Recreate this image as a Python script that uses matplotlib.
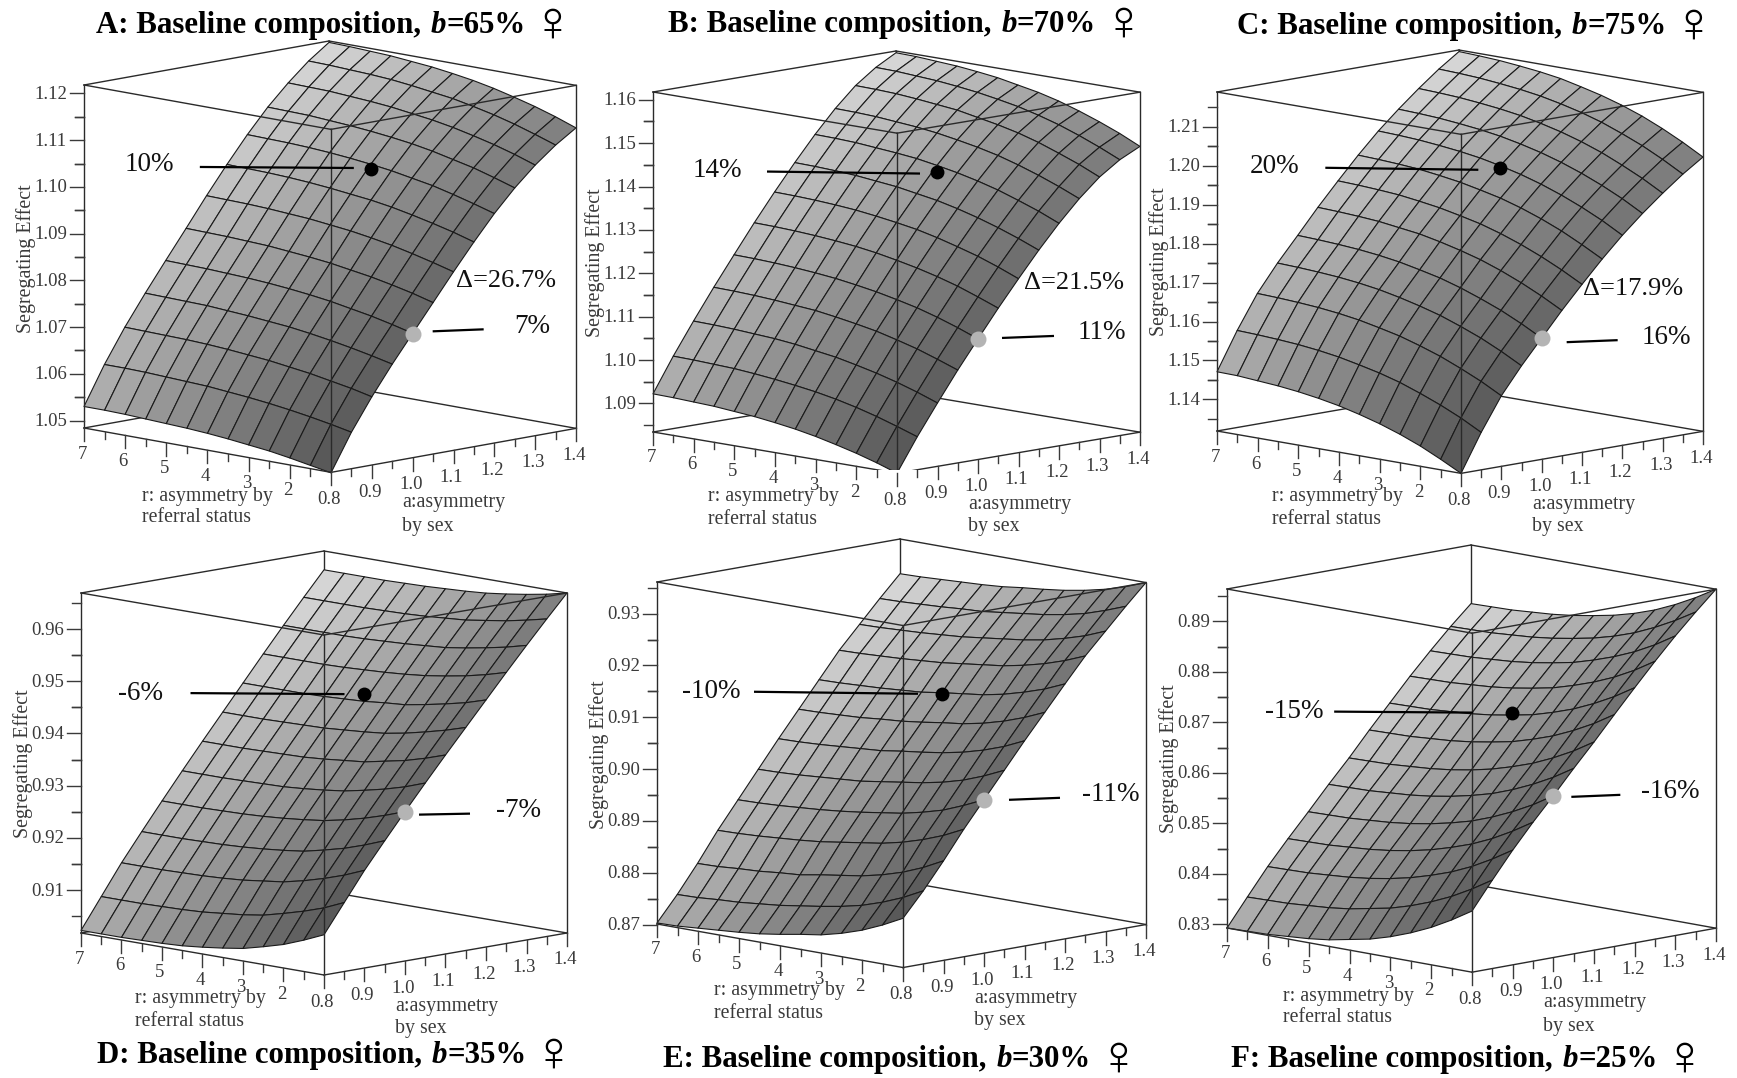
import numpy as np
import matplotlib
matplotlib.use('Agg')
import matplotlib.pyplot as plt
from mpl_toolkits.mplot3d import proj3d

W, H = 1737, 1078
SERIF = ['Liberation Serif', 'DejaVu Sans']

# surface nodes, coarser than the mesh of the original (about 25 x 25)
a_grid = [0.8, 0.85, 0.9, 0.95, 1.0, 1.05, 1.1, 1.15, 1.2, 1.25, 1.3, 1.35, 1.4]
r_grid = [1, 1.5, 2, 2.5, 3, 3.5, 4, 4.5, 5, 5.5, 6, 6.5, 7]

# rows follow r_grid, columns follow a_grid
z_A = [
    [1.0483,1.0562,1.0630,1.0692,1.0750,1.0808,1.0866,1.0922,1.0975,1.1022,1.1063,1.1098,1.1127],
    [1.0491,1.0571,1.0640,1.0702,1.0761,1.0820,1.0878,1.0935,1.0988,1.1036,1.1078,1.1113,1.1143],
    [1.0499,1.0579,1.0648,1.0711,1.0771,1.0830,1.0889,1.0946,1.1000,1.1049,1.1091,1.1127,1.1157],
    [1.0506,1.0586,1.0656,1.0719,1.0779,1.0839,1.0899,1.0956,1.1011,1.1059,1.1102,1.1139,1.1169],
    [1.0511,1.0592,1.0662,1.0726,1.0787,1.0846,1.0907,1.0965,1.1019,1.1069,1.1112,1.1149,1.1180],
    [1.0516,1.0597,1.0668,1.0732,1.0793,1.0853,1.0914,1.0972,1.1027,1.1077,1.1120,1.1158,1.1189],
    [1.0520,1.0601,1.0672,1.0736,1.0798,1.0858,1.0919,1.0977,1.1033,1.1083,1.1126,1.1164,1.1196],
    [1.0523,1.0605,1.0676,1.0740,1.0802,1.0862,1.0924,1.0982,1.1038,1.1088,1.1132,1.1170,1.1202],
    [1.0525,1.0607,1.0679,1.0743,1.0805,1.0866,1.0927,1.0986,1.1042,1.1092,1.1136,1.1175,1.1206],
    [1.0527,1.0609,1.0681,1.0746,1.0807,1.0868,1.0930,1.0989,1.1045,1.1095,1.1139,1.1178,1.1210],
    [1.0529,1.0611,1.0682,1.0747,1.0809,1.0870,1.0932,1.0991,1.1047,1.1098,1.1142,1.1180,1.1212],
    [1.0530,1.0612,1.0683,1.0748,1.0810,1.0871,1.0933,1.0992,1.1048,1.1099,1.1143,1.1182,1.1214],
    [1.0530,1.0612,1.0684,1.0749,1.0811,1.0872,1.0934,1.0993,1.1049,1.1100,1.1144,1.1183,1.1215]]
z_B = [
    [1.0834,1.0910,1.0980,1.1048,1.1112,1.1175,1.1235,1.1293,1.1347,1.1396,1.1438,1.1470,1.1493],
    [1.0850,1.0926,1.0997,1.1065,1.1130,1.1193,1.1254,1.1312,1.1367,1.1416,1.1459,1.1491,1.1515],
    [1.0864,1.0941,1.1012,1.1081,1.1146,1.1210,1.1271,1.1329,1.1384,1.1434,1.1477,1.1510,1.1534],
    [1.0876,1.0954,1.1025,1.1094,1.1160,1.1224,1.1285,1.1344,1.1400,1.1450,1.1494,1.1527,1.1551],
    [1.0887,1.0965,1.1036,1.1106,1.1171,1.1236,1.1298,1.1357,1.1413,1.1464,1.1508,1.1541,1.1566],
    [1.0896,1.0974,1.1046,1.1115,1.1181,1.1246,1.1309,1.1368,1.1424,1.1475,1.1519,1.1553,1.1578],
    [1.0903,1.0981,1.1053,1.1123,1.1189,1.1255,1.1317,1.1376,1.1433,1.1484,1.1528,1.1562,1.1587],
    [1.0909,1.0987,1.1060,1.1130,1.1196,1.1262,1.1324,1.1384,1.1441,1.1492,1.1537,1.1570,1.1596],
    [1.0913,1.0992,1.1065,1.1134,1.1201,1.1267,1.1330,1.1389,1.1446,1.1498,1.1542,1.1576,1.1602],
    [1.0917,1.0996,1.1068,1.1138,1.1205,1.1271,1.1334,1.1394,1.1450,1.1502,1.1547,1.1581,1.1607],
    [1.0919,1.0998,1.1071,1.1141,1.1208,1.1274,1.1337,1.1397,1.1454,1.1506,1.1551,1.1584,1.1610],
    [1.0921,1.1000,1.1073,1.1143,1.1210,1.1276,1.1339,1.1399,1.1456,1.1508,1.1553,1.1587,1.1613],
    [1.0922,1.1001,1.1074,1.1144,1.1211,1.1277,1.1340,1.1400,1.1457,1.1509,1.1554,1.1588,1.1614]]
z_C = [
    [1.1319,1.1415,1.1500,1.1568,1.1630,1.1692,1.1750,1.1806,1.1858,1.1905,1.1948,1.1988,1.2023],
    [1.1346,1.1443,1.1528,1.1596,1.1658,1.1720,1.1778,1.1834,1.1887,1.1934,1.1977,1.2017,1.2052],
    [1.1371,1.1467,1.1552,1.1621,1.1683,1.1745,1.1803,1.1860,1.1912,1.1959,1.2002,1.2043,1.2078],
    [1.1392,1.1488,1.1574,1.1642,1.1704,1.1767,1.1825,1.1882,1.1934,1.1981,1.2025,1.2065,1.2101],
    [1.1410,1.1507,1.1592,1.1661,1.1723,1.1786,1.1844,1.1901,1.1953,1.2000,1.2044,1.2085,1.2120],
    [1.1425,1.1522,1.1608,1.1676,1.1739,1.1801,1.1860,1.1917,1.1969,1.2016,1.2060,1.2101,1.2136],
    [1.1438,1.1534,1.1620,1.1689,1.1751,1.1814,1.1872,1.1929,1.1982,1.2029,1.2073,1.2114,1.2149],
    [1.1448,1.1545,1.1631,1.1700,1.1762,1.1825,1.1883,1.1940,1.1993,1.2040,1.2084,1.2125,1.2161],
    [1.1456,1.1553,1.1639,1.1708,1.1770,1.1832,1.1891,1.1948,1.2001,1.2048,1.2092,1.2133,1.2169],
    [1.1462,1.1559,1.1645,1.1714,1.1776,1.1839,1.1898,1.1955,1.2007,1.2054,1.2098,1.2139,1.2175],
    [1.1466,1.1563,1.1649,1.1718,1.1780,1.1843,1.1902,1.1959,1.2012,1.2059,1.2103,1.2144,1.2180],
    [1.1470,1.1566,1.1652,1.1721,1.1783,1.1846,1.1905,1.1962,1.2015,1.2062,1.2106,1.2147,1.2183],
    [1.1471,1.1568,1.1654,1.1723,1.1785,1.1848,1.1907,1.1964,1.2017,1.2064,1.2108,1.2149,1.2185]]
z_D = [
    [.9095,.9150,.9205,.9255,.9304,.9352,.9399,.9445,.9491,.9537,.9582,.9626,.9669],
    [.9078,.9133,.9189,.9240,.9290,.9338,.9386,.9433,.9479,.9526,.9572,.9617,.9660],
    [.9063,.9120,.9176,.9227,.9278,.9327,.9375,.9423,.9470,.9517,.9564,.9609,.9653],
    [.9052,.9109,.9165,.9217,.9268,.9318,.9367,.9414,.9462,.9510,.9557,.9603,.9647],
    [.9042,.9099,.9156,.9208,.9260,.9310,.9359,.9407,.9455,.9504,.9551,.9597,.9642],
    [.9036,.9093,.9151,.9203,.9255,.9305,.9355,.9403,.9452,.9500,.9548,.9594,.9639],
    [.9031,.9089,.9146,.9199,.9251,.9301,.9351,.9400,.9448,.9497,.9545,.9591,.9637],
    [.9027,.9085,.9143,.9196,.9248,.9298,.9348,.9397,.9446,.9495,.9543,.9589,.9635],
    [.9025,.9083,.9141,.9194,.9246,.9297,.9347,.9396,.9444,.9493,.9541,.9588,.9634],
    [.9024,.9082,.9140,.9193,.9245,.9296,.9346,.9395,.9443,.9492,.9540,.9587,.9633],
    [.9023,.9081,.9139,.9192,.9244,.9295,.9345,.9394,.9443,.9492,.9540,.9587,.9633],
    [.9023,.9081,.9139,.9192,.9244,.9295,.9345,.9394,.9443,.9492,.9540,.9587,.9633],
    [.9023,.9081,.9139,.9192,.9244,.9295,.9345,.9394,.9443,.9492,.9540,.9587,.9633]]
z_E = [
    [.8796,.8842,.8893,.8947,.8997,.9047,.9097,.9145,.9193,.9240,.9281,.9322,.9361],
    [.8776,.8822,.8873,.8928,.8979,.9029,.9079,.9128,.9176,.9224,.9265,.9307,.9346],
    [.8759,.8806,.8857,.8913,.8963,.9014,.9065,.9114,.9163,.9211,.9253,.9294,.9334],
    [.8746,.8793,.8845,.8901,.8952,.9003,.9054,.9103,.9152,.9201,.9243,.9285,.9325],
    [.8736,.8784,.8836,.8892,.8943,.8995,.9046,.9095,.9144,.9193,.9236,.9278,.9318],
    [.8730,.8777,.8830,.8886,.8937,.8989,.9040,.9090,.9139,.9188,.9231,.9273,.9313],
    [.8723,.8771,.8824,.8880,.8931,.8983,.9035,.9084,.9134,.9183,.9226,.9268,.9309],
    [.8717,.8765,.8817,.8874,.8926,.8977,.9029,.9079,.9128,.9178,.9221,.9263,.9304],
    [.8713,.8761,.8814,.8870,.8922,.8974,.9026,.9076,.9125,.9175,.9218,.9261,.9301],
    [.8710,.8757,.8810,.8867,.8919,.8971,.9023,.9072,.9122,.9172,.9215,.9258,.9299],
    [.8707,.8755,.8808,.8864,.8916,.8968,.9020,.9070,.9120,.9170,.9213,.9256,.9297],
    [.8704,.8752,.8805,.8862,.8914,.8966,.9018,.9068,.9118,.9168,.9211,.9254,.9295],
    [.8703,.8751,.8804,.8861,.8913,.8965,.9017,.9067,.9117,.9167,.9210,.9253,.9294]]
z_F = [
    [.8414,.8468,.8520,.8568,.8613,.8660,.8705,.8752,.8798,.8843,.8886,.8926,.8964],
    [.8389,.8443,.8495,.8543,.8588,.8635,.8680,.8727,.8773,.8818,.8861,.8902,.8940],
    [.8367,.8421,.8473,.8521,.8567,.8614,.8659,.8706,.8752,.8797,.8840,.8881,.8919],
    [.8349,.8403,.8455,.8503,.8549,.8596,.8641,.8688,.8734,.8780,.8823,.8863,.8901],
    [.8334,.8388,.8441,.8489,.8534,.8581,.8627,.8674,.8720,.8766,.8809,.8849,.8887],
    [.8322,.8376,.8429,.8477,.8523,.8570,.8615,.8662,.8708,.8754,.8797,.8838,.8876],
    [.8314,.8368,.8420,.8468,.8514,.8561,.8606,.8654,.8700,.8746,.8789,.8830,.8868],
    [.8306,.8360,.8413,.8461,.8507,.8554,.8599,.8647,.8693,.8739,.8782,.8823,.8861],
    [.8301,.8355,.8408,.8456,.8502,.8549,.8594,.8642,.8688,.8734,.8777,.8818,.8856],
    [.8298,.8352,.8405,.8453,.8499,.8546,.8591,.8639,.8685,.8731,.8774,.8815,.8853],
    [.8295,.8349,.8402,.8450,.8496,.8543,.8588,.8636,.8682,.8728,.8771,.8812,.8850],
    [.8294,.8348,.8401,.8449,.8495,.8542,.8587,.8635,.8681,.8727,.8770,.8811,.8849],
    [.8293,.8347,.8400,.8448,.8494,.8541,.8586,.8634,.8680,.8726,.8769,.8810,.8848]]
surfaces = [z_A, z_B, z_C, z_D, z_E, z_F]

letters = ['A', 'B', 'C', 'D', 'E', 'F']
b_share = ['65', '70', '75', '35', '30', '25']
z_lo = [1.0484, 1.0834, 1.1319, 0.9018, 0.8701, 0.8293]
z_hi = [1.1218, 1.1618, 1.2189, 0.9669, 0.9361, 0.8964]
z_ticks = [[1.05, 1.06, 1.07, 1.08, 1.09, 1.10, 1.11, 1.12],
           [1.09, 1.10, 1.11, 1.12, 1.13, 1.14, 1.15, 1.16],
           [1.14, 1.15, 1.16, 1.17, 1.18, 1.19, 1.20, 1.21],
           [0.91, 0.92, 0.93, 0.94, 0.95, 0.96],
           [0.87, 0.88, 0.89, 0.90, 0.91, 0.92, 0.93],
           [0.83, 0.84, 0.85, 0.86, 0.87, 0.88, 0.89]]
a_ticks = [0.8, 0.9, 1.0, 1.1, 1.2, 1.3, 1.4]
r_ticks = [2, 3, 4, 5, 6, 7]

# the two marked points on each surface
black_a, black_r = 1.2, 4
gray_a, gray_r = 1.0, 1
black_z = [1.1023, 1.1419, 1.1977, 0.9462, 0.9132, 0.8705]
gray_z = [1.0748, 1.1112, 1.1630, 0.9304, 0.8997, 0.8613]
black_text = ['10%', '14%', '20%', '-6%', '-10%', '-15%']
gray_text = ['7%', '11%', '16%', '-7%', '-11%', '-16%']
delta_text = ['\u0394=26.7%', '\u0394=21.5%', '\u0394=17.9%', None, None, None]

# layout, in pixels of the picture: front corner x/y, left x, right x, side y, top y
box_px = [(331, 472, 84, 576, 428, 85), (897, 473, 653, 1140, 432, 92), (1461, 473, 1217, 1703, 431, 92),
          (324, 975, 81, 567, 933, 593), (903, 967, 657, 1146, 924, 582), (1472, 972, 1227, 1716, 928, 589)]
title_px = [(96, 33), (668, 32), (1237, 34), (97, 1063), (663, 1067), (1231, 1067)]
# leader start, leader end, label centre, relative to the dot
black_off = [((-171, -2), (-17, -1), (-221, -4)), ((-170, 0), (-17, 2), (-220, -1)), ((-175, 0), (-22, 2), (-226, -1)),
             ((-174, -1), (-20, 0), (-224, -1)), ((-188, -2), (-24, 0), (-231, -2)), ((-178, -1), (-39, 0), (-218, -1))]
gray_off = [((20, -3), (71, -5), (120, -8)), ((24, -1), (76, -3), (124, -6)), ((25, 4), (76, 2), (125, -1)),
            ((14, 3), (65, 2), (114, -1)), ((25, 0), (76, -2), (127, -5)), ((18, 1), (67, -1), (117, -4))]
delta_off = [(93, -53), (96, -56), (91, -49), None, None, None]


def fit_axes(ax, box):
    """Moves and scales the 3d axes so the box corners land on the wanted pixels."""
    fx, fy, lx, rx, sy, ty = box
    size = 400.0
    ax.set_position([0, 0, size/W, size/H])
    ax.apply_aspect()
    xl, yl = proj_display(ax, 0.8, 7, ax.get_zlim()[0])
    xr, yr = proj_display(ax, 1.4, 1, ax.get_zlim()[0])
    size = size * (rx-lx) / (xr-xl)
    ax.set_position([0, 0, size/W, size/H])
    ax.apply_aspect()
    xl, yl = proj_display(ax, 0.8, 7, ax.get_zlim()[0])
    ax.set_position([(lx-xl)/W, ((H-sy)-yl)/H, size/W, size/H])
    ax.apply_aspect()


def proj_display(ax, a, r, z):
    x2, y2, _ = proj3d.proj_transform(a, r, z, ax.get_proj())
    return ax.transData.transform((x2, y2))


def to_px(ax, a, r, z):
    x, y = proj_display(ax, a, r, z)
    return x, H-y


def box_line(ax, p, q, order):
    ax.plot([p[0], q[0]], [p[1], q[1]], [p[2], q[2]], color='#2a2a2a', lw=1.0, zorder=order, clip_on=False)


fig = plt.figure(figsize=(W/100, H/100), dpi=100)
A, R = np.meshgrid(a_grid, r_grid)
shade = 0.35 + 0.36*(R-1)/6 + 0.17*(A-0.8)/0.6
colors = np.dstack([shade, shade, shade])

axes = []
for i in range(6):
    fx, fy, lx, rx, sy, ty = box_px[i]
    wr = rx-fx
    wl = fx-lx
    elev = np.degrees(np.arcsin((fy-sy)/float(wr)))
    ax = fig.add_axes([0, 0, 0.2, 0.2], projection='3d', computed_zorder=False)
    ax.set_proj_type('ortho')
    ax.view_init(elev=elev, azim=-135)
    ax.set_box_aspect((wr, wl, (sy-ty)/np.cos(np.radians(elev))*0.7071))

    lo, hi = z_lo[i], z_hi[i]
    # edges behind the surface
    box_line(ax, (0.8, 7, lo), (1.4, 7, lo), 1)
    box_line(ax, (1.4, 7, lo), (1.4, 1, lo), 1)
    box_line(ax, (0.8, 7, hi), (1.4, 7, hi), 1)
    box_line(ax, (1.4, 7, hi), (1.4, 1, hi), 1)
    box_line(ax, (1.4, 7, lo), (1.4, 7, hi), 1)
    surf = ax.plot_surface(A, R, np.array(surfaces[i]), facecolors=colors, rstride=1, cstride=1,
                           edgecolor='#1a1a1a', linewidth=0.8, shade=False, zorder=2)
    surf.set_clip_on(False)
    # edges in front of it
    box_line(ax, (0.8, 1, lo), (0.8, 1, hi), 3)
    box_line(ax, (0.8, 7, lo), (0.8, 1, lo), 3)
    box_line(ax, (0.8, 1, lo), (1.4, 1, lo), 3)
    box_line(ax, (0.8, 7, hi), (0.8, 1, hi), 3)
    box_line(ax, (0.8, 1, hi), (1.4, 1, hi), 3)
    box_line(ax, (0.8, 7, lo), (0.8, 7, hi), 3)
    box_line(ax, (1.4, 1, lo), (1.4, 1, hi), 3)

    ax.set_xlim(0.8, 1.4, view_margin=0)
    ax.set_ylim(1, 7, view_margin=0)
    ax.set_zlim(lo, hi, view_margin=0)
    ax.set_axis_off()
    fit_axes(ax, box_px[i])
    axes.append(ax)

# everything flat goes on one axes that counts in picture pixels
over = fig.add_axes([0, 0, 1, 1])
over.set_xlim(0, W)
over.set_ylim(H, 0)
over.axis('off')
tick_col = '#3a3a3a'
renderer = fig.canvas.get_renderer()

for i in range(6):
    ax = axes[i]
    fx, fy, lx, rx, sy, ty = box_px[i]
    lo, hi = z_lo[i], z_hi[i]

    # value axis ticks on the left edge
    for t in z_ticks[i]:
        x, y = to_px(ax, 0.8, 7, t)
        over.plot([x-14, x], [y, y], color=tick_col, lw=1.0)
        over.text(x-17, y+1, '%.2f' % t, ha='right', va='center', fontsize=13.5, family=SERIF, color=tick_col)
        for m in (t-0.005, t+0.005):
            if lo < m < hi:
                x, y = to_px(ax, 0.8, 7, m)
                over.plot([x-9, x], [y, y], color=tick_col, lw=1.0)
    # a ticks
    for t in a_ticks:
        x, y = to_px(ax, t, 1, lo)
        over.plot([x, x], [y, y+13], color=tick_col, lw=1.0)
        over.text(x-2, y+27, '%.1f' % t, ha='center', va='center', fontsize=13.5, family=SERIF, color=tick_col)
        if t < 1.4:
            x, y = to_px(ax, t+0.05, 1, lo)
            over.plot([x, x], [y, y+7], color=tick_col, lw=1.0)
    # r ticks
    for t in r_ticks:
        x, y = to_px(ax, 0.8, t, lo)
        over.plot([x, x], [y, y+13], color=tick_col, lw=1.0)
        over.text(x-2, y+26, '%d' % t, ha='center', va='center', fontsize=13.5, family=SERIF, color=tick_col)
        x, y = to_px(ax, 0.8, t-0.5, lo)
        over.plot([x, x], [y, y+7], color=tick_col, lw=1.0)

    # axis titles
    over.text(fx-189, fy+24, 'r: asymmetry by', ha='left', va='center', fontsize=14.3, family=SERIF, color=tick_col)
    over.text(fx-189, fy+46, 'referral status', ha='left', va='center', fontsize=14.3, family=SERIF, color=tick_col)
    over.text(fx+71, fy+31, 'a:asymmetry', ha='left', va='center', fontsize=14.3, family=SERIF, color=tick_col)
    over.text(fx+71, fy+54, 'by sex', ha='left', va='center', fontsize=14.3, family=SERIF, color=tick_col)
    over.text(lx-58, sy-169, 'Segregating Effect', rotation=90, ha='center', va='center', fontsize=14.3,
              family=SERIF, color=tick_col)

    # marked points with leaders and labels
    bx, by = to_px(ax, black_a, black_r, black_z[i])
    gx, gy = to_px(ax, gray_a, gray_r, gray_z[i])
    s, e, t = black_off[i]
    over.plot([bx+s[0], bx+e[0]], [by+s[1], by+e[1]], color='black', lw=1.6, solid_capstyle='butt')
    over.plot([bx], [by], 'o', color='black', ms=10, mew=0)
    over.text(bx+t[0], by+t[1], black_text[i], ha='center', va='center', fontsize=19.5, family=SERIF, color='#111111')
    s, e, t = gray_off[i]
    over.plot([gx+s[0], gx+e[0]], [gy+s[1], gy+e[1]], color='black', lw=1.6, solid_capstyle='butt')
    over.plot([gx], [gy], 'o', color='#b4b4b4', ms=11.5, mew=0)
    over.text(gx+t[0], gy+t[1], gray_text[i], ha='center', va='center', fontsize=19.5, family=SERIF, color='#111111')
    if delta_text[i]:
        over.text(gx+delta_off[i][0], gy+delta_off[i][1], delta_text[i], ha='center', va='center', fontsize=19,
                  family=SERIF, color='#111111')

    # panel title, piece by piece because of the italic b and the sign
    x, y = title_px[i]
    pieces = [('%s: Baseline composition,' % letters[i], 'bold', 'normal', 22.2, 10, 0),
              ('b', 'bold', 'italic', 22.2, 0, 0),
              ('=%s%%' % b_share[i], 'bold', 'normal', 22.2, 5, 0),
              ('\u2640', 'normal', 'normal', 42, 0, 8)]
    for txt, weight, style, size, gap, drop in pieces:
        t = over.text(x, y+drop, txt, ha='left', va='baseline', fontsize=size, fontweight=weight, fontstyle=style,
                      family=SERIF, color='black')
        x = x + t.get_window_extent(renderer).width + gap

fig.savefig('out.png', dpi=100)
